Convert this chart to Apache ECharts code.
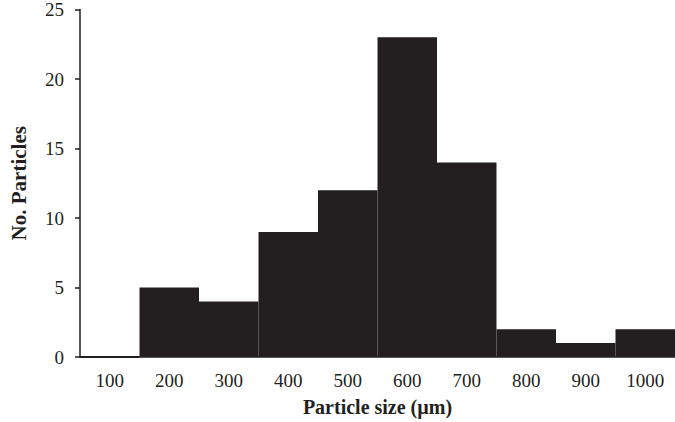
<!DOCTYPE html>
<html>
<head>
<meta charset="utf-8">
<script src="https://cdn.jsdelivr.net/npm/echarts@6/dist/echarts.min.js"></script>
<style>
  html,body{margin:0;padding:0;background:#fff;}
  #chart{width:675px;height:422px;}
</style>
</head>
<body>
<div id="chart"></div>
<script>
  // particle size bins (µm) and counts
  var sizes = ['100', '200', '300', '400', '500', '600', '700', '800', '900', '1000'];
  var counts = [0, 5, 4, 9, 12, 23, 14, 2, 1, 2];
  var yTicks = [0, 5, 10, 15, 20, 25];

  var chart = echarts.init(document.getElementById('chart'), null, { renderer: 'svg' });
  var font = '"Liberation Serif", "Times New Roman", serif';
  var ink = '#231f20';
  var option = {
    animation: false,
    grid: { left: 68, right: 0, top: 7, bottom: 64 },
    xAxis: {
      type: 'category',
      data: sizes,
      name: 'Particle size (µm)',
      nameLocation: 'middle',
      nameGap: 40,
      nameTextStyle: { fontFamily: font, fontSize: 20, fontWeight: 'bold', color: ink },
      axisLine: { lineStyle: { color: ink, width: 1.5 } },
      axisTick: { show: false },
      axisLabel: { fontFamily: font, fontSize: 19, color: ink, margin: 14 }
    },
    yAxis: {
      type: 'value',
      min: yTicks[0],
      max: yTicks[yTicks.length - 1],
      interval: 5,
      name: 'No. Particles',
      nameLocation: 'middle',
      nameGap: 51,
      nameTextStyle: { fontFamily: font, fontSize: 21, fontWeight: 'bold', color: ink },
      axisLine: { show: true, lineStyle: { color: ink, width: 1.5 } },
      axisTick: { show: true, length: 5, lineStyle: { color: ink, width: 1.5 } },
      axisLabel: { fontFamily: font, fontSize: 19, color: ink, margin: 16 },
      splitLine: { show: false }
    },
    series: [{
      type: 'bar',
      data: counts,
      barCategoryGap: '0%',
      itemStyle: { color: ink, borderColor: ink, borderWidth: 2 }
    }]
  };
  chart.setOption(option);
</script>
</body>
</html>
